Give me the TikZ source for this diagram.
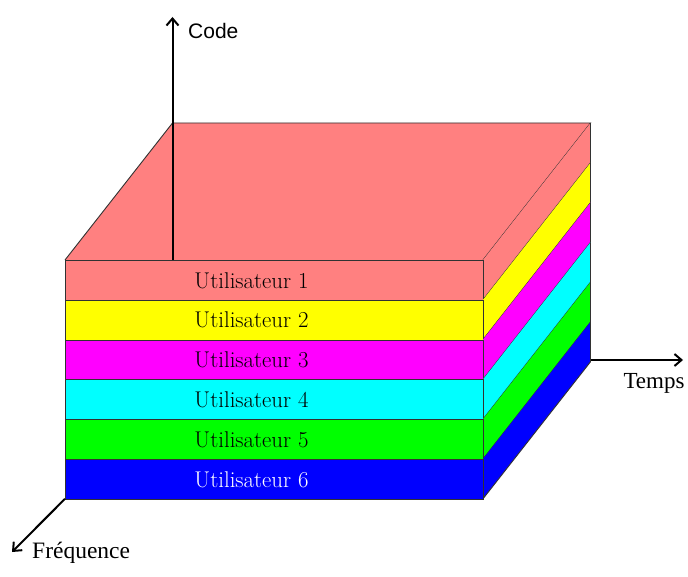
\documentclass[tikz,border=0pt]{standalone}
\usepackage{fontspec}
\newfontfamily\axsans{Liberation Sans}
\newfontfamily\axserif{Liberation Serif}
\usetikzlibrary{arrows.meta,calc}
\definecolor{edge}{RGB}{50,50,50}
\definecolor{salmon}{RGB}{255,128,128}
\definecolor{cyel}{RGB}{255,255,0}
\definecolor{cmag}{RGB}{255,0,255}
\definecolor{ccya}{RGB}{0,255,255}
\definecolor{cgre}{RGB}{0,255,0}
\definecolor{cblu}{RGB}{0,0,255}
\begin{document}
\begin{tikzpicture}[x=1pt,y=-1pt,
  layer/.style={draw=edge, line width=1pt, minimum width=418pt, minimum height=39.8pt, inner sep=0pt, anchor=north west},
  face/.style={draw=edge, line width=0.9pt},
  lbl/.style={font=\fontsize{22.8}{26}\selectfont, inner sep=0pt},
  axis/.style={line width=2pt, -{Straight Barb[length=7pt,width=12pt,line width=2pt]}},
  axlab/.style={inner sep=0pt}]
\useasboundingbox (0,0) rectangle (688,577);
% offset of the back face
\def\dx{107.5}\def\dy{-137}
% top face
\fill[salmon] (65,260) -- (65+\dx,260+\dy) -- (483+\dx,260+\dy) -- (483,260) -- cycle;
\draw[face] (65,260) -- (65+\dx,260+\dy) -- (483+\dx,260+\dy) -- (483,260);
% right faces and front layers
\foreach \i/\c in {1/salmon,2/cyel,3/cmag,4/ccya,5/cgre,6/cblu}{
  \pgfmathsetmacro{\t}{260+(\i-1)*39.8}
  \pgfmathsetmacro{\b}{260+\i*39.8}
  \fill[\c] (483,\t) -- (483,\b) -- (483+\dx,\b+\dy) -- (483+\dx,\t+\dy) -- cycle;
  \draw[face] (483,\b) -- (483+\dx,\b+\dy) -- (483+\dx,\t+\dy);
  \node[layer, fill=\c] (u\i) at (65,\t) {};
}
\foreach \i in {1,...,5}{
  \node[lbl] (t\i) at ([xshift=-23pt]u\i.center) {Utilisateur \i};
}
\node[lbl, text=white] (t6) at ([xshift=-23pt]u6.center) {Utilisateur 6};
% axes
\coordinate (codeO) at (172.5,260);
\coordinate (codeE) at (172.5,17);
\coordinate (tempsO) at (590.5,360);
\coordinate (tempsE) at (683,360);
\coordinate (freqO) at (65,498.8);
\coordinate (freqE) at (12,552);
\draw[axis] (codeO) -- (codeE);
\draw[axis] (tempsO) -- (tempsE);
\draw[axis] (freqO) -- (freqE);
\node[axlab, anchor=west, font=\axsans\fontsize{21}{24}\selectfont] (lcode) at (188,31) {Code};
\node[axlab, font=\axserif\fontsize{23}{26}\selectfont] (ltemps) at (654,383) {Temps};
\node[axlab, anchor=west, font=\axserif\fontsize{23.5}{27}\selectfont] (lfreq) at (32,553) {Fréquence};
\end{tikzpicture}
\end{document}
